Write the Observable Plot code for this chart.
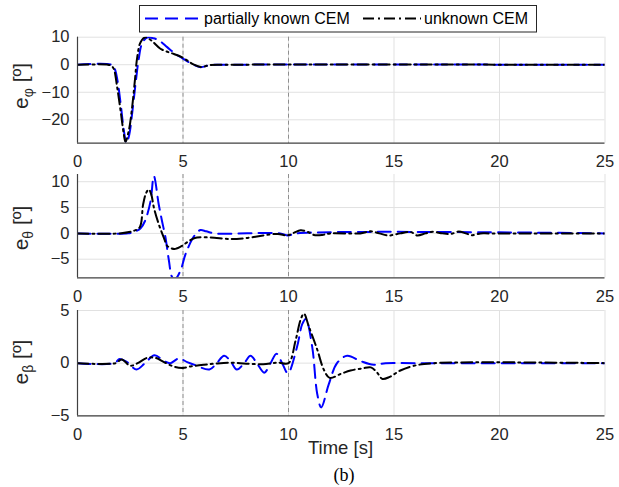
<!DOCTYPE html>
<html><head><meta charset="utf-8">
<script src="https://cdn.jsdelivr.net/npm/d3@7"></script>
<script src="https://cdn.jsdelivr.net/npm/@observablehq/plot@0.6"></script>
<style>
body{margin:0;background:#fff;}
#wrap{position:relative;width:619px;height:487px;font-family:"Liberation Sans",Arial,sans-serif;background:#fff;}
#wrap svg{position:absolute;left:0;top:0;}
</style></head><body><div id="wrap"></div>
<script>
// ---- data ----
const xTicks = [0, 5, 10, 15, 20, 25];
const markerTimes = [5, 10];
const seriesNames = ["partially known CEM", "unknown CEM"];

// e_phi
const phiKnownT = [0, 1.6, 1.75, 1.9, 2.05, 2.2, 2.32, 2.45, 2.6, 2.75, 2.9, 3.05, 3.3, 3.6, 3.87, 4.25, 4.63, 4.96, 5.25, 5.5, 5.83, 6.3, 7, 25];
const phiKnownV = [0, 0, -1.2, -6, -14.5, -24, -28.5, -25.5, -17, -7, 2, 7.5, 9.9, 9.6, 8.8, 6.4, 4.0, 2.4, 1.0, 0, -0.9, -0.1, 0, 0];
const phiUnknownT = [0, 1.45, 1.6, 1.72, 1.88, 2.04, 2.19, 2.27, 2.43, 2.59, 2.72, 2.83, 2.99, 3.22, 3.5, 3.93, 4.3, 4.57, 4.96, 5.25, 5.5, 5.85, 6.3, 7, 25];
const phiUnknownV = [0, 0, -0.4, -1.5, -8.2, -16.6, -25, -28, -24, -15.4, -5.7, 2.7, 8.2, 10, 8.8, 5.8, 4.6, 3.9, 2.7, 1.3, 0.1, -0.8, -0.1, 0, 0];

// e_theta
const thKnownT = [0, 2.4, 2.7, 2.99, 3.2, 3.46, 3.62, 3.85, 4.0, 4.17, 4.33, 4.49, 4.64, 4.88, 5.12, 5.44, 5.65, 5.83, 6.1, 6.5, 9.6, 9.98, 10.4, 25];
const thKnownV = [0, 0, 0.3, 1.0, 2.4, 6.2, 11.1, 5.6, 2.5, -0.8, -5.2, -8.5, -8.8, -7.2, -4.0, -1.1, 0.1, 0.65, 0.4, 0, 0, -0.4, 0, 0];
const thUnknownT = [0, 2.0, 2.67, 2.95, 3.11, 3.25, 3.38, 3.5, 3.62, 3.85, 4.09, 4.25, 4.45, 4.64, 4.96, 5.2, 5.44, 5.67, 6.3, 7.3, 8.0, 8.8, 9.5, 9.94, 10.25, 10.57, 10.9, 11.2, 11.6, 12.0, 13.4, 13.9, 14.3, 14.75, 15.3, 15.8, 16.1, 16.5, 16.85, 17.3, 17.7, 18.07, 18.4, 18.7, 19.1, 19.5, 25];
const thUnknownV = [0, 0, 0.5, 1.2, 5.6, 7.8, 8.5, 7.5, 5.0, 1.8, -0.8, -2.4, -2.9, -3.0, -2.4, -1.7, -1.1, -0.8, -0.8, -1.1, -0.9, -0.4, -0.1, -0.4, 0.1, 0.6, 0.3, -0.3, -0.3, 0, 0, 0.4, 0, -0.4, 0, 0.25, -0.4, 0, 0.3, 0, -0.1, 0.35, 0, -0.35, 0, 0, 0];

// e_beta
const beKnownT = [0, 1.75, 2.0, 2.35, 2.8, 3.2, 3.65, 4.1, 4.4, 4.8, 5.2, 5.6, 6.25, 6.6, 6.95, 7.25, 7.55, 7.9, 8.2, 8.5, 8.85, 9.15, 9.43, 9.7, 9.97, 10.4, 10.65, 10.82, 11.12, 11.36, 11.55, 11.91, 12.3, 12.78, 13.41, 14.04, 14.6, 16, 25];
const beKnownV = [0, 0, 0.4, 0.1, -0.6, 0, 0.75, 0.2, 0, 0.45, 0.1, -0.2, -0.6, 0, 0.7, 0.2, -0.6, 0, 0.7, 0, -0.9, 0, 0.9, 0, -0.95, 1.5, 3.7, 4.2, 1.6, -2.9, -4.2, -2.0, 0, 0.7, 0.2, -0.15, 0, 0, 0];
const beUnknownT = [0, 1.8, 2.1, 2.5, 2.85, 3.3, 3.7, 4.1, 4.6, 5.0, 5.4, 6.0, 6.5, 7.3, 8.0, 8.8, 9.5, 10.0, 10.33, 10.57, 10.73, 10.96, 11.36, 11.67, 11.95, 12.5, 12.94, 13.5, 13.9, 14.2, 14.45, 14.8, 15.3, 15.94, 16.9, 25];
const beUnknownV = [0, 0, 0.35, -0.25, 0, 0.5, 0.5, 0.1, -0.35, -0.45, -0.3, -0.15, -0.05, 0.05, -0.05, -0.1, 0.05, 0, 2.1, 4.1, 4.7, 3.5, 1.3, -0.6, -1.4, -1.0, -0.7, -0.5, -0.4, -0.9, -1.5, -1.3, -0.7, -0.25, 0, 0];

// ---- drawing ----
const W = 619, H = 487, L = 77, R = 604.5;
const tickFont = 16.5;
const wrap = document.getElementById("wrap");
const toRows = (T, V) => T.map((t, i) => ({t, v: V[i]}));

function panel({kT, kV, uT, uV, domain, ticks, top, bottom, sub, labelCenter}) {
  const known = toRows(kT, kV), unknown = toRows(uT, uV);
  const p = Plot.plot({
    width: W, height: H,
    marginLeft: L, marginRight: W - R, marginTop: top, marginBottom: H - bottom,
    style: {background: "transparent", fontFamily: "Liberation Sans, Arial, sans-serif", fontSize: tickFont + "px", color: "#262626", overflow: "visible"},
    x: {domain: [0, 25], ticks: xTicks, label: null},
    y: {domain, ticks, label: null},
    marks: [
      Plot.gridX(xTicks, {stroke: "#e1e1e1", strokeOpacity: 1, strokeWidth: 1}),
      Plot.gridY(ticks, {stroke: "#e1e1e1", strokeOpacity: 1, strokeWidth: 1}),
      Plot.ruleX(markerTimes, {stroke: "#8f8f8f", strokeWidth: 1, strokeDasharray: "4,3"}),
      Plot.line(known, {x: "t", y: "v", stroke: "#0000ff", strokeWidth: 2, strokeDasharray: "13,7", curve: "catmull-rom", clip: true}),
      Plot.line(unknown, {x: "t", y: "v", stroke: "#000000", strokeWidth: 2, strokeDasharray: "11,4,2,4", curve: "catmull-rom", clip: true}),
      Plot.ruleY([domain[0]], {stroke: "#404040", strokeWidth: 1.2}),
      Plot.ruleX([0], {stroke: "#404040", strokeWidth: 1.2}),
      Plot.axisX(xTicks, {tickSize: 0, tickPadding: 12, fill: "#262626", fontSize: tickFont}),
      Plot.axisY(ticks, {tickSize: 0, tickPadding: 8, fill: "#262626", fontSize: tickFont})
    ]
  });
  const svg = d3.select(p);
  const t = svg.append("text")
    .attr("transform", `translate(28,${labelCenter}) rotate(-90)`)
    .attr("text-anchor", "middle")
    .attr("fill", "#262626")
    .style("font-size", "21px")
    .style("font-family", "Liberation Sans, Arial, sans-serif");
  t.append("tspan").text("e");
  t.append("tspan").attr("dy", 5).style("font-size", "14px").text(sub);
  t.append("tspan").attr("dy", -5).text(" [º]");
  wrap.appendChild(p);
  return svg;
}

panel({kT: phiKnownT, kV: phiKnownV, uT: phiUnknownT, uV: phiUnknownV,
  domain: [-28.5, 10], ticks: [-20, -10, 0, 10], top: 36.7, bottom: 142.7, sub: "φ", labelCenter: 86});
panel({kT: thKnownT, kV: thKnownV, uT: thUnknownT, uV: thUnknownV,
  domain: [-8.6, 11.4], ticks: [-5, 0, 5, 10], top: 174, bottom: 277.3, sub: "θ", labelCenter: 228});
const s3 = panel({kT: beKnownT, kV: beKnownV, uT: beUnknownT, uV: beUnknownV,
  domain: [-5, 5], ticks: [-5, 0, 5], top: 310, bottom: 415.3, sub: "β", labelCenter: 362});

s3.append("text").attr("x", 340.5).attr("y", 454).attr("text-anchor", "middle")
  .attr("fill", "#262626").style("font-size", "18.5px").style("font-family", "Liberation Sans, Arial, sans-serif")
  .text("Time [s]");
s3.append("text").attr("x", 344).attr("y", 481).attr("text-anchor", "middle")
  .attr("fill", "#000").style("font-size", "18px").style("font-family", "Liberation Serif, Times New Roman, serif")
  .text("(b)");

// legend
const lg = d3.select(wrap).append("svg").attr("width", W).attr("height", 40)
  .style("font-family", "Liberation Sans, Arial, sans-serif");
lg.append("rect").attr("x", 139.5).attr("y", 5.5).attr("width", 397).attr("height", 26.5)
  .attr("fill", "#fff").attr("stroke", "#262626").attr("stroke-width", 1);
lg.append("line").attr("x1", 145).attr("x2", 200).attr("y1", 18.5).attr("y2", 18.5)
  .attr("stroke", "#0000ff").attr("stroke-width", 2).attr("stroke-dasharray", "13,7");
lg.append("text").attr("x", 204).attr("y", 24.2).attr("fill", "#000").style("font-size", "16px").text(seriesNames[0]);
lg.append("line").attr("x1", 363).attr("x2", 421).attr("y1", 18.5).attr("y2", 18.5)
  .attr("stroke", "#000").attr("stroke-width", 2).attr("stroke-dasharray", "11,4,2,4");
lg.append("text").attr("x", 424).attr("y", 24.2).attr("fill", "#000").style("font-size", "16px").text(seriesNames[1]);
</script></body></html>
